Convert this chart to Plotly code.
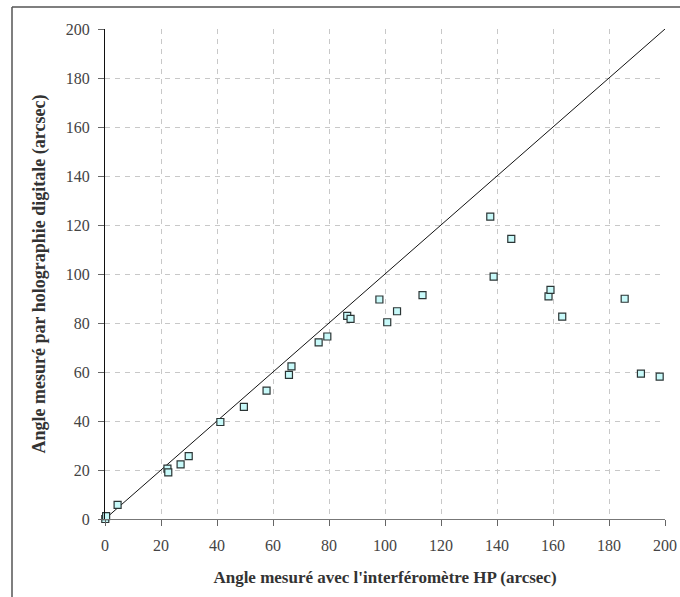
import plotly.graph_objects as go

# Data (arcsec)
interf_hp = [0.1, 0.4, 4.5, 22.3, 22.6, 27.0, 29.9, 41.2, 49.6, 57.7, 65.7, 66.6,
             76.3, 79.4, 86.5, 87.7, 98.0, 100.8, 104.3, 113.4, 137.6, 138.8,
             145.1, 158.4, 159.1, 163.3, 185.6, 191.4, 198.1]
holo_dig = [0.0, 1.2, 5.8, 20.6, 19.0, 22.3, 25.7, 39.6, 45.8, 52.4, 58.8, 62.3,
            72.1, 74.5, 82.9, 81.7, 89.6, 80.3, 84.8, 91.4, 123.4, 98.9,
            114.3, 90.9, 93.5, 82.6, 89.9, 59.3, 58.1]
diag_x = [0, 200]
diag_y = [0, 200]
tick_vals = [0, 20, 40, 60, 80, 100, 120, 140, 160, 180, 200]
x_title = "Angle mesuré avec l'interféromètre HP (arcsec)"
y_title = "Angle mesuré par holographie digitale (arcsec)"

W, H = 680, 597
L, R, T, B = 105, 15, 29, 78
PW, PH = W - L - R, H - T - B

FONT = "Liberation Serif"

fig = go.Figure()
fig.add_trace(go.Scatter(x=diag_x, y=diag_y, mode="lines",
                         line=dict(color="#111111", width=1), hoverinfo="skip",
                         showlegend=False))
fig.add_trace(go.Scatter(x=interf_hp, y=holo_dig, mode="markers",
                         marker=dict(symbol="square", size=7, color="#c8fafa",
                                     line=dict(color="#2b3535", width=1.2)),
                         cliponaxis=False, showlegend=False))

axis_common = dict(
    range=[0, 200], tickvals=tick_vals, showgrid=True, gridcolor="#c8c8c8",
    griddash="5px,5px", gridwidth=1, zeroline=False, showline=True,
    ticks="outside", ticklen=6, tickcolor="#666666", tickwidth=1,
    tickfont=dict(family=FONT, size=16, color="#444444"), automargin=False,
)

fig.update_xaxes(**axis_common, linecolor="#777777", linewidth=1.2,
                 ticklabelstandoff=6,
                 title=dict(text=x_title, standoff=17,
                            font=dict(family=FONT, size=17, color="#333333", weight="bold")))
fig.update_yaxes(**axis_common, linecolor="#111111", linewidth=1,
                 ticklabelstandoff=5,
                 title=dict(text=y_title, standoff=15,
                            font=dict(family=FONT, size=18, color="#333333", weight="bold")))

# outer frame (left and top edges visible in the reference)
bx = (12 - L) / PW
ty = (H - B - 7) / PH
by = (H - B - H) / PH
rx = (W - L) / PW
fig.add_shape(type="line", xref="paper", yref="paper", x0=bx, x1=bx, y0=by, y1=ty,
              line=dict(color="#555555", width=1.5))
fig.add_shape(type="line", xref="paper", yref="paper", x0=bx, x1=rx, y0=ty, y1=ty,
              line=dict(color="#555555", width=1.5))

fig.update_layout(width=W, height=H, margin=dict(l=L, r=R, t=T, b=B),
                  paper_bgcolor="white", plot_bgcolor="white")

fig.write_html("out.html", config={"displayModeBar": False},
               post_script="document.body.style.margin='0px';document.body.style.overflow='hidden';")
